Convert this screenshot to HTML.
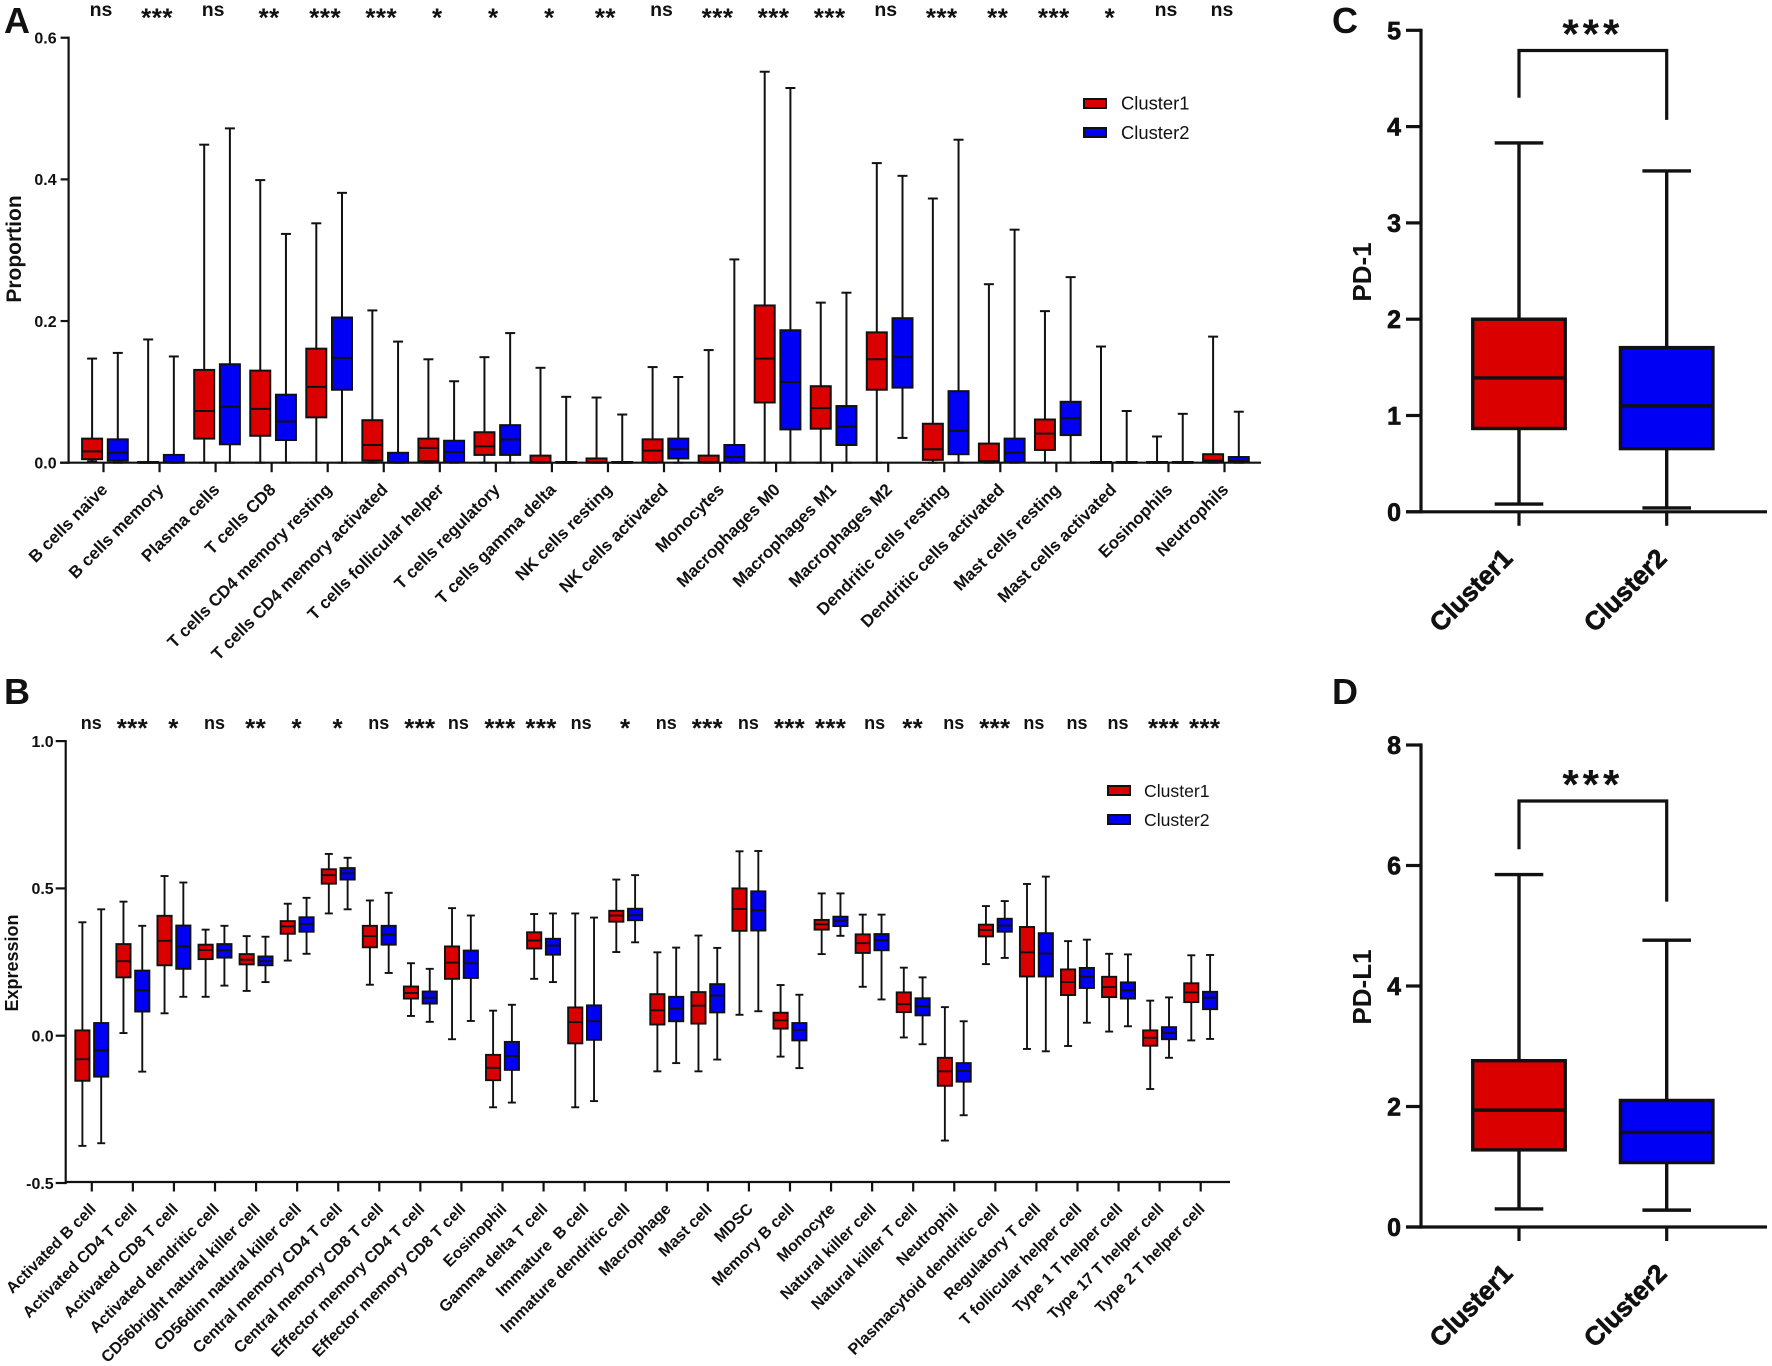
<!DOCTYPE html>
<html lang="en">
<head>
<meta charset="utf-8">
<title>Immune infiltration box plots by cluster</title>
<style>
html,body{margin:0;padding:0;background:#fff;}
svg{display:block;font-family:"Liberation Sans",Arial,sans-serif;fill:#111;}
</style>
</head>
<body>
<svg id="figure" xmlns="http://www.w3.org/2000/svg" width="1772" height="1366" viewBox="0 0 1772 1366">
  <rect x="0" y="0" width="1772" height="1366" fill="#fff"/>
  <g id="panelA">
    <text x="4" y="33" font-size="36" font-weight="700">A</text>
    <text transform="translate(21,249) rotate(-90)" text-anchor="middle" font-size="21" font-weight="700">Proportion</text>
    <g>
      <rect x="1084" y="99" width="22" height="9" fill="#da0000" stroke="#111" stroke-width="2"/>
      <text x="1121" y="109.5" font-size="18.4">Cluster1</text>
      <rect x="1084" y="128" width="22" height="9" fill="#0000f5" stroke="#111" stroke-width="2"/>
      <text x="1121" y="139" font-size="18.4">Cluster2</text>
    </g>
  </g>
  <g id="panelB">
    <text x="4" y="704" font-size="36" font-weight="700">B</text>
    <text transform="translate(18,963) rotate(-90)" text-anchor="middle" font-size="18" font-weight="700">Expression</text>
    <g>
      <rect x="1108" y="786" width="22" height="9" fill="#da0000" stroke="#111" stroke-width="2"/>
      <text x="1144" y="797" font-size="17.6">Cluster1</text>
      <rect x="1108" y="815" width="22" height="9" fill="#0000f5" stroke="#111" stroke-width="2"/>
      <text x="1144" y="826" font-size="17.6">Cluster2</text>
    </g>
  </g>
  <g id="panelC">
    <text x="1332" y="33" font-size="36" font-weight="700">C</text>
    <text transform="translate(1371,272) rotate(-90)" text-anchor="middle" font-size="26" font-weight="700">PD-1</text>
  </g>
  <g id="panelD">
    <text x="1332" y="704" font-size="36" font-weight="700">D</text>
    <text transform="translate(1371,987) rotate(-90)" text-anchor="middle" font-size="26" font-weight="700">PD-L1</text>
  </g>
</svg>
<script>
/* ---------- Panel A data ---------- */
const aCategories = ["B cells naive","B cells memory","Plasma cells","T cells CD8","T cells CD4 memory resting","T cells CD4 memory activated","T cells follicular helper","T cells regulatory","T cells gamma delta","NK cells resting","NK cells activated","Monocytes","Macrophages M0","Macrophages M1","Macrophages M2","Dendritic cells resting","Dendritic cells activated","Mast cells resting","Mast cells activated","Eosinophils","Neutrophils"];
const aSignificance = ["ns","***","ns","**","***","***","*","*","*","**","ns","***","***","***","ns","***","**","***","*","ns","ns"];
const aTicks = [0,0.2,0.4,0.6];
const aTickLabels = ["0.0","0.2","0.4","0.6"];
const aC1Max = [0.147,0.174,0.449,0.399,0.338,0.215,0.146,0.149,0.134,0.092,0.135,0.159,0.552,0.226,0.423,0.373,0.252,0.214,0.164,0.037,0.178];
const aC1Q3 = [0.034,0.001,0.131,0.130,0.161,0.060,0.034,0.043,0.010,0.006,0.033,0.010,0.222,0.108,0.184,0.055,0.027,0.061,0.001,0.001,0.012];
const aC1Med = [0.016,0,0.073,0.076,0.107,0.025,0.021,0.023,0.001,0.001,0.017,0.001,0.147,0.077,0.146,0.019,0.002,0.041,0,0,0.003];
const aC1Q1 = [0.005,0,0.034,0.038,0.064,0.003,0.002,0.011,0,0,0.001,0,0.085,0.048,0.103,0.004,0.001,0.018,0,0,0.001];
const aC1Min = [0.002,0,0,0,0,0,0,0,0,0,0,0,0,0,0,0,0,0,0,0,0];
const aC2Max = [0.155,0.150,0.472,0.323,0.381,0.171,0.115,0.183,0.093,0.068,0.121,0.287,0.529,0.240,0.405,0.456,0.329,0.262,0.073,0.069,0.072];
const aC2Q3 = [0.033,0.011,0.139,0.096,0.205,0.014,0.031,0.053,0.001,0.001,0.034,0.025,0.187,0.080,0.204,0.101,0.034,0.086,0.001,0.001,0.008];
const aC2Med = [0.014,0.001,0.079,0.058,0.148,0.001,0.015,0.033,0,0,0.019,0.008,0.114,0.051,0.149,0.045,0.014,0.063,0,0,0.003];
const aC2Q1 = [0.003,0,0.026,0.032,0.103,0,0.001,0.011,0,0,0.006,0.001,0.047,0.025,0.106,0.012,0.001,0.039,0,0,0.001];
const aC2Min = [0,0,0,0,0,0,0,0,0,0,0,0,0,0,0.035,0,0,0,0,0,0];

/* ---------- Panel B data ---------- */
const bCategories = ["Activated B cell","Activated CD4 T cell","Activated CD8 T cell","Activated dendritic cell","CD56bright natural killer cell","CD56dim natural killer cell","Central memory CD4 T cell","Central memory CD8 T cell","Effector memory CD4 T cell","Effector memory CD8 T cell","Eosinophil","Gamma delta T cell","Immature  B cell","Immature dendritic cell","Macrophage","Mast cell","MDSC","Memory B cell","Monocyte","Natural killer cell","Natural killer T cell","Neutrophil","Plasmacytoid dendritic cell","Regulatory T cell","T follicular helper cell","Type 1 T helper cell","Type 17 T helper cell","Type 2 T helper cell"];
const bSignificance = ["ns","***","*","ns","**","*","*","ns","***","ns","***","***","ns","*","ns","***","ns","***","***","ns","**","ns","***","ns","ns","ns","***","***"];
const bTicks = [-0.5,0,0.5,1];
const bTickLabels = ["-0.5","0.0","0.5","1.0"];
const bC1Max = [0.385,0.455,0.542,0.360,0.338,0.448,0.617,0.459,0.246,0.433,0.085,0.413,0.415,0.530,0.283,0.340,0.626,0.172,0.483,0.411,0.231,0.097,0.440,0.515,0.321,0.278,0.119,0.273];
const bC1Q3 = [0.018,0.311,0.407,0.309,0.277,0.389,0.565,0.373,0.167,0.303,-0.065,0.351,0.096,0.424,0.141,0.148,0.500,0.078,0.393,0.344,0.147,-0.075,0.377,0.369,0.225,0.200,0.018,0.178];
const bC1Med = [-0.080,0.253,0.322,0.291,0.258,0.371,0.545,0.338,0.145,0.248,-0.109,0.323,0.046,0.408,0.086,0.102,0.430,0.052,0.378,0.314,0.107,-0.121,0.359,0.283,0.182,0.165,-0.007,0.147];
const bC1Q1 = [-0.153,0.198,0.239,0.260,0.242,0.346,0.516,0.300,0.126,0.193,-0.151,0.296,-0.026,0.387,0.038,0.041,0.356,0.024,0.360,0.281,0.080,-0.170,0.337,0.201,0.138,0.131,-0.034,0.114];
const bC1Min = [-0.374,0.009,0.076,0.132,0.152,0.255,0.415,0.173,0.067,-0.012,-0.243,0.193,-0.243,0.284,-0.121,-0.121,0.071,-0.071,0.277,0.166,-0.006,-0.356,0.243,-0.045,-0.035,0.014,-0.181,-0.016];
const bC2Max = [0.429,0.373,0.520,0.373,0.336,0.468,0.604,0.485,0.227,0.408,0.105,0.415,0.401,0.545,0.299,0.298,0.627,0.139,0.483,0.411,0.198,0.049,0.457,0.540,0.326,0.276,0.130,0.274];
const bC2Q3 = [0.043,0.221,0.374,0.311,0.269,0.402,0.569,0.373,0.150,0.289,-0.021,0.329,0.103,0.431,0.132,0.175,0.490,0.043,0.404,0.345,0.127,-0.093,0.397,0.348,0.230,0.181,0.029,0.149];
const bC2Med = [-0.050,0.154,0.303,0.290,0.253,0.379,0.551,0.343,0.129,0.246,-0.069,0.306,0.049,0.409,0.092,0.136,0.426,0.020,0.389,0.324,0.100,-0.120,0.374,0.279,0.200,0.154,0.009,0.129];
const bC2Q1 = [-0.139,0.082,0.227,0.265,0.239,0.353,0.530,0.309,0.109,0.196,-0.116,0.275,-0.014,0.392,0.049,0.079,0.357,-0.016,0.372,0.290,0.069,-0.156,0.353,0.201,0.162,0.126,-0.012,0.090];
const bC2Min = [-0.365,-0.122,0.132,0.170,0.182,0.278,0.429,0.213,0.047,0.050,-0.227,0.182,-0.222,0.317,-0.093,-0.081,0.083,-0.110,0.339,0.123,-0.029,-0.270,0.264,-0.053,0.044,0.032,-0.075,-0.011];

/* ---------- Panels C and D data ---------- */
const clusterNames = ["Cluster1","Cluster2"];
const cTicks = [0,1,2,3,4,5];
const pd1Max = [3.83,3.54];
const pd1Q3 = [2.00,1.705];
const pd1Med = [1.39,1.10];
const pd1Q1 = [0.865,0.656];
const pd1Min = [0.08,0.04];
const pd1BracketTop = [4.79];
const pd1BracketLegEnds = [4.30,4.07];
const dTicks = [0,2,4,6,8];
const pdl1Max = [5.85,4.76];
const pdl1Q3 = [2.76,2.10];
const pdl1Med = [1.94,1.57];
const pdl1Q1 = [1.28,1.07];
const pdl1Min = [0.30,0.28];
const pdl1BracketTop = [7.07];
const pdl1BracketLegEnds = [6.27,5.40];

/* ---------- Drawing helpers ---------- */
const SVG_NS = "http://www.w3.org/2000/svg";
const INK = "#111";
const FILLS = ["#da0000","#0000f5"];

function mk(parent, tag, attrs, content) {
  const el = document.createElementNS(SVG_NS, tag);
  for (const k in attrs) el.setAttribute(k, attrs[k]);
  if (content !== undefined) el.textContent = content;
  parent.appendChild(el);
  return el;
}
function seg(parent, x1, y1, x2, y2, sw) {
  return mk(parent, "line", {x1: x1, y1: y1, x2: x2, y2: y2, stroke: INK, "stroke-width": sw});
}

function drawBox(g, prefix, x, s, yOf, o) {
  const box = mk(g, "g", {});
  
  
  const whisker = seg(box, x, yOf(s.max), x, yOf(s.min), o.sw);
  
  
  const capTop = seg(box, x - o.cap / 2, yOf(s.max), x + o.cap / 2, yOf(s.max), o.sw);
  
  
  const capBottom = seg(box, x - o.cap / 2, yOf(s.min), x + o.cap / 2, yOf(s.min), o.sw);
  
  
  const iqr = mk(box, "rect", {x: x - o.w / 2, y: yOf(s.q3), width: o.w, height: Math.max(0, yOf(s.q1) - yOf(s.q3)), fill: s.fill, stroke: INK, "stroke-width": o.sw});
  
  
  const median = seg(box, x - o.w / 2, yOf(s.med), x + o.w / 2, yOf(s.med), o.sw);
  
  
}

function drawYAxis(g, p, ticks, labels) {
  const axis = seg(g, p.x0, p.yOf(ticks[ticks.length - 1]) - p.axisW / 2, p.x0, p.yOf(ticks[0]) + p.axisW / 2, p.axisW);
  
  
  ticks.forEach(function (t, i) {
    const y = p.yOf(t);
    const tick = seg(g, p.x0 - p.yTick, y, p.x0, y, p.axisW);
    
    
    const lab = mk(g, "text", {x: p.x0 - p.yTick - p.yLabelGap, y: y + p.yTickFont * 0.36, "text-anchor": "end", "font-size": p.yTickFont, "font-weight": 700, stroke: INK, "stroke-width": p.textStroke || 0}, labels[i]);
    
    
  });
}

function drawXAxis(g, p, categories) {
  const axis = seg(g, p.xStart, p.yBase, p.xEnd, p.yBase, p.axisW);
  
  
  categories.forEach(function (c, i) {
    const x = p.xOf(i);
    const tick = seg(g, x, p.yBase, x, p.yBase + p.xTick, p.axisW);
    
    
    const lx = x + p.labelDx + i * (p.labelStep || 0);
    const ly = p.yBase + p.labelDy;
    const lab = mk(g, "text", {transform: "translate(" + lx + "," + ly + ") rotate(-45)", "text-anchor": "end", "font-size": p.xFont, "font-weight": 700, stroke: INK, "stroke-width": p.textStroke || 0}, c);
    lab.style.whiteSpace = 'pre';
    
    
  });
}

function drawSig(g, label, x, yNs, yStar, nsFont, starFont, starSpacing) {
  const isNs = label === "ns";
  const t = mk(g, "text", {x: x, y: isNs ? yNs : yStar, "text-anchor": "middle", "font-size": isNs ? nsFont : starFont, "font-weight": 700, "letter-spacing": isNs ? 0 : starSpacing}, label);
  
  
}

function drawGrouped(g, p, cats, sig, c1, c2) {
  cats.forEach(function (c, i) {
    drawBox(g, 'cluster1', p.xOf(i) + p.off1, {max: c1.max[i], q3: c1.q3[i], med: c1.med[i], q1: c1.q1[i], min: c1.min[i], fill: FILLS[0]}, p.yOf, p);
    drawBox(g, 'cluster2', p.xOf(i) + p.off2, {max: c2.max[i], q3: c2.q3[i], med: c2.med[i], q1: c2.q1[i], min: c2.min[i], fill: FILLS[1]}, p.yOf, p);
    const nudge = (p.sigNudge && p.sigNudge[i]) || 0;
    drawSig(g, sig[i], p.xOf(i) + p.sigDx + nudge, p.nsY, p.starY, p.nsFont, p.starFont, p.starSpacing);
  });
}

/* ---------- Panel A ---------- */
const gA = document.getElementById("panelA");
const pA = {
  x0: 68.6, axisW: 2.2, yTick: 8, yLabelGap: 4, yTickFont: 16, sw: 2, w: 20, cap: 10,
  xStart: 60, xEnd: 1261, yBase: 462.7, xTick: 9.5, labelDx: 5, labelDy: 28, xFont: 17,
  off1: -11.4, off2: 14.3, sigDx: -2.5, nsY: 16, starY: 26.5, nsFont: 19.5, starFont: 26, starSpacing: 0.5,
  yOf: function (v) { return 462.7 - v * 708.3; },
  xOf: function (i) { return 103.5 + i * 56.05; }
};
drawGrouped(gA, pA, aCategories, aSignificance,
  {max: aC1Max, q3: aC1Q3, med: aC1Med, q1: aC1Q1, min: aC1Min},
  {max: aC2Max, q3: aC2Q3, med: aC2Med, q1: aC2Q1, min: aC2Min});
drawXAxis(gA, pA, aCategories);
drawYAxis(gA, pA, aTicks, aTickLabels);

/* ---------- Panel B ---------- */
const gB = document.getElementById("panelB");
const pB = {
  x0: 65.7, axisW: 2.2, yTick: 10, yLabelGap: 2, yTickFont: 16, sw: 1.9, w: 14.2, cap: 8,
  xStart: 65.7, xEnd: 1230, yBase: 1182, xTick: 9.5, labelDx: 5, labelDy: 28, xFont: 16,
  off1: -9.4, off2: 9.4, sigDx: -0.5, nsY: 729, starY: 737, nsFont: 18, starFont: 26, starSpacing: 0.3,
  sigNudge: {9: -2.5, 10: -2, 11: -2, 12: -3, 19: 3, 23: -2, 26: 4.5, 27: 4.5},
  yOf: function (v) { return 1035.7 - v * 294.6; },
  xOf: function (i) { return 91.8 + i * 41.07; }
};
drawGrouped(gB, pB, bCategories, bSignificance,
  {max: bC1Max, q3: bC1Q3, med: bC1Med, q1: bC1Q1, min: bC1Min},
  {max: bC2Max, q3: bC2Q3, med: bC2Med, q1: bC2Q1, min: bC2Min});
drawXAxis(gB, pB, bCategories);
drawYAxis(gB, pB, bTicks, bTickLabels);

/* ---------- Panels C and D ---------- */
function drawSingle(g, p, ticks, st, bracketTop, legEnds) {
  [0, 1].forEach(function (i) {
    drawBox(g, 'cluster' + (i + 1), p.xOf(i), {max: st.max[i], q3: st.q3[i], med: st.med[i], q1: st.q1[i], min: st.min[i], fill: FILLS[i]}, p.yOf, p);
  });
  drawXAxis(g, p, clusterNames);
  drawYAxis(g, p, ticks, ticks.map(function (t) { return String(t); }));
  const x1 = p.xOf(0), x2 = p.xOf(1), yT = p.yOf(bracketTop[0]);
  const bracket = mk(g, "path", {d: "M" + x1 + " " + p.yOf(legEnds[0]) + "V" + yT + "H" + x2 + "V" + p.yOf(legEnds[1]), fill: "none", stroke: INK, "stroke-width": 3.2});
  
  
  const stars = mk(g, "text", {x: (x1 + x2) / 2, y: yT - 2, "text-anchor": "middle", "font-size": 42, "font-weight": 700, "letter-spacing": 4}, "***");
  
  
}

const baseCD = {
  x0: 1421, axisW: 3.2, yTick: 15, yLabelGap: 5, yTickFont: 25, sw: 3.4, w: 92.5, cap: 48.6,
  xStart: 1406, xEnd: 1767, xTick: 14, labelDx: -5, labelStep: 6.5, labelDy: 48, xFont: 26, textStroke: 0.7,
  xOf: function (i) { return 1519 + i * 147.7; }
};
drawSingle(document.getElementById("panelC"),
  Object.assign({}, baseCD, {yBase: 511.8, yOf: function (v) { return 511.8 - v * 96.3; }}),
  cTicks, {max: pd1Max, q3: pd1Q3, med: pd1Med, q1: pd1Q1, min: pd1Min}, pd1BracketTop, pd1BracketLegEnds);
drawSingle(document.getElementById("panelD"),
  Object.assign({}, baseCD, {yBase: 1227, yOf: function (v) { return 1227 - v * 60.25; }}),
  dTicks, {max: pdl1Max, q3: pdl1Q3, med: pdl1Med, q1: pdl1Q1, min: pdl1Min}, pdl1BracketTop, pdl1BracketLegEnds);
</script>
</body>
</html>
